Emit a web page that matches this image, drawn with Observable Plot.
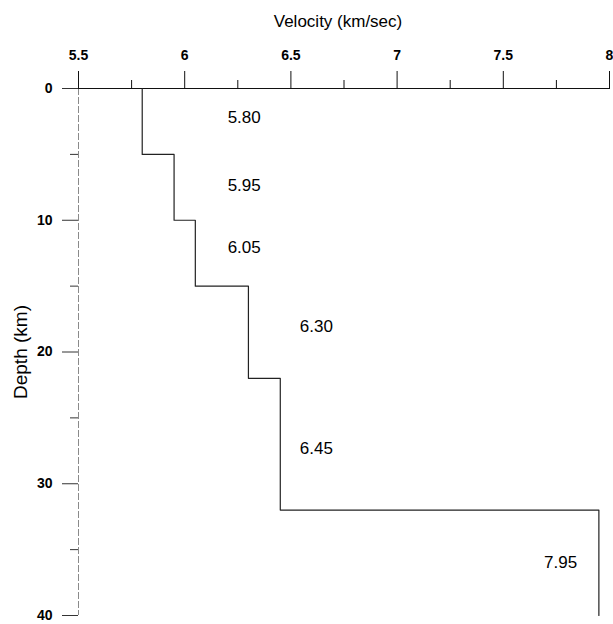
<!DOCTYPE html>
<html>
<head>
<meta charset="utf-8">
<script src="https://cdn.jsdelivr.net/npm/d3@7"></script>
<script src="https://cdn.jsdelivr.net/npm/@observablehq/plot@0.6"></script>
<style>
  html, body { margin: 0; padding: 0; background: #fff; }
  #chart svg { display: block; }
  #chart g[aria-label$="tick label"] { font-size: 14px; font-weight: bold; }
  #chart g[aria-label$="tick label"] text { font-size: 14px; font-weight: bold; }
</style>
</head>
<body>
<div id="chart"></div>
<script>
// Layer data (velocity model)
const depthTop = [0, 5, 10, 15, 22, 32];
const depthBottom = [5, 10, 15, 22, 32, 40];
const velocity = [5.80, 5.95, 6.05, 6.30, 6.45, 7.95];
const velocityLabels = ["5.80", "5.95", "6.05", "6.30", "6.45", "7.95"];
// Annotation anchors (where each layer's label sits, in data units)
const labelVelocity = [6.28, 6.28, 6.28, 6.62, 6.62, 7.77];
const labelDepth = [2.2, 7.35, 12.1, 18.1, 27.3, 36.0];
// Axis ticks
const xTicks = [5.5, 6, 6.5, 7, 7.5, 8];
const xMinorTicks = [5.75, 6.25, 6.75, 7.25, 7.75];
const yTicks = [0, 10, 20, 30, 40];
const yMinorTicks = [5, 15, 25, 35];
const xTitle = "Velocity (km/sec)";
const yTitle = "Depth (km)";

// Build step profile points from the layers
const profile = [];
velocity.forEach((v, i) => {
  profile.push({v, d: depthTop[i]});
  profile.push({v, d: depthBottom[i]});
});

const font = "'Liberation Sans', Arial, Helvetica, sans-serif";

const chart = Plot.plot({
  width: 613,
  height: 624,
  marginTop: 88,
  marginBottom: 9,
  marginLeft: 78,
  marginRight: 4,
  style: {fontFamily: font, background: "#fff", color: "#000", overflow: "visible"},
  x: {domain: [5.5, 8]},
  y: {domain: [0, 40], reverse: true},
  marks: [
    // axis lines
    Plot.ruleX([5.5], {y1: 0, y2: 40, stroke: "#8a8a8a", strokeDasharray: "7,2"}),
    Plot.ruleY([0], {stroke: "#111", strokeWidth: 1.2}),
    // top axis
    Plot.axisX(xTicks, {anchor: "top", tickSize: 18, tickPadding: 11, fontSize: 14, fontWeight: "bold",
      tickFormat: d => String(d), label: null, stroke: "#111"}),
    Plot.axisX(xMinorTicks, {anchor: "top", tickSize: 9, tickFormat: () => "", label: null, stroke: "#111"}),
    // left axis
    Plot.axisY(yTicks, {anchor: "left", tickSize: 16, tickPadding: 10, fontSize: 14, fontWeight: "bold",
      tickFormat: d => String(d), label: null, stroke: "#333"}),
    Plot.axisY(yMinorTicks, {anchor: "left", tickSize: 8, tickFormat: () => "", label: null, stroke: "#333"}),
    // velocity profile
    Plot.line(profile, {x: "v", y: "d", stroke: "#222", strokeWidth: 1.2}),
    // layer labels
    Plot.text(velocityLabels, {x: labelVelocity, y: labelDepth, text: d => d, fontSize: 17, fill: "#000"}),
    // titles
    Plot.text([xTitle], {frameAnchor: "top", dx: -6, dy: -62, lineAnchor: "bottom", fontSize: 17, fill: "#000"}),
    Plot.text([yTitle], {frameAnchor: "left", textAnchor: "middle", rotate: -90, dx: -58, lineAnchor: "middle", fontSize: 19, fill: "#000"})
  ]
});

document.getElementById("chart").appendChild(chart);
</script>
</body>
</html>
